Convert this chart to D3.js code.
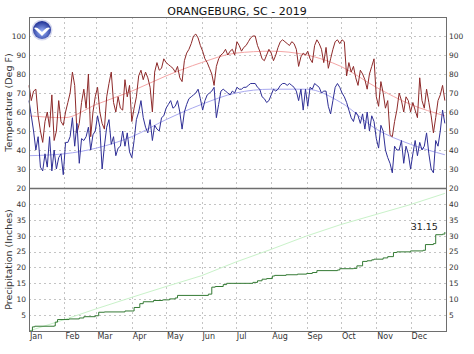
<!DOCTYPE html>
<html>
<head>
<meta charset="utf-8">
<script src="https://cdn.jsdelivr.net/npm/d3@7"></script>
<style>
  body { margin: 0; background: #fff; }
  svg { display: block; font-family: "DejaVu Sans", Verdana, sans-serif; }
</style>
</head>
<body>
<div id="chart"></div>
<script>
// ---------------- data ----------------
const year = 2019;
const stepDays = 2;   // readings taken every other day, starting Jan 1

// daily max temperature (Deg F), one value every 2 days
const tmax = [
  74, 66, 71, 72, 58, 50, 44, 55, 60, 52, 69, 45, 50, 66, 55, 53,      // Jan
  60, 65, 70, 81, 74, 49, 54, 65, 72, 62, 80, 47, 60, 68,              // Feb
  73, 60, 54, 51, 68, 75, 81, 65, 60, 68, 62, 61, 77, 68, 74,          // Mar
  55, 62, 68, 79, 82, 77, 81, 78, 73, 60, 81, 86, 82, 83, 88,          // Apr
  86, 85, 84, 83, 81, 84, 78, 76, 87, 91, 93, 96, 100, 101, 99, 95,    // May
  92, 88, 86, 83, 80, 74, 84, 88, 90, 91, 93, 90, 92, 93, 90,          // Jun
  97, 95, 92, 94, 95, 97, 99, 100, 100, 95, 92, 88, 87, 90, 93, 91,    // Jul
  87, 90, 94, 97, 98, 97, 96, 95, 97, 96, 93, 84, 89, 91, 90, 92,      // Aug
  88, 86, 95, 98, 96, 93, 86, 94, 83, 88, 93, 97, 98, 96, 98,          // Sep
  97, 79, 86, 81, 84, 78, 74, 82, 80, 77, 72, 80, 84, 88, 68,          // Oct
  63, 76, 70, 62, 66, 48, 47, 55, 61, 70, 66, 60, 68, 66, 60,          // Nov
  65, 61, 57, 78, 66, 62, 72, 65, 58, 49, 57, 66, 69, 74, 66           // Dec
];

// daily min temperature (Deg F), same days as tmax
const tmin = [
  66, 58, 50, 40, 47, 31, 29, 38, 31, 47, 29, 40, 30, 36, 38, 27,      // Jan
  44, 44, 47, 57, 42, 54, 33, 46, 45, 47, 52, 40, 48, 50,              // Feb
  58, 52, 30, 42, 52, 56, 43, 47, 37, 41, 42, 50, 42, 49, 39,          // Mar
  36, 45, 56, 60, 66, 57, 52, 49, 56, 45, 53, 51, 50, 57, 58,          // Apr
  62, 64, 66, 62, 63, 66, 60, 51, 60, 64, 67, 68, 69, 70, 72, 67,      // May
  61, 66, 69, 70, 71, 73, 57, 64, 71, 72, 71, 70, 69, 71, 70,          // Jun
  73, 72, 72, 73, 73, 74, 75, 75, 75, 73, 72, 68, 67, 65, 66, 69,      // Jul
  72, 71, 72, 74, 75, 75, 74, 75, 74, 73, 71, 66, 72, 61, 72, 63,      // Aug
  73, 72, 75, 74, 73, 70, 71, 71, 63, 59, 66, 73, 75, 73, 70,          // Sep
  68, 65, 61, 57, 55, 60, 58, 54, 59, 51, 60, 50, 58, 55, 46,          // Oct
  41, 53, 50, 40, 36, 33, 28, 42, 40, 40, 45, 33, 42, 38, 30,          // Nov
  38, 45, 37, 44, 40, 42, 49, 38, 30, 28, 45, 42, 50, 61, 54           // Dec
];

// normals at the first of each month, last value is Dec 31
const normalHigh   = [58, 57, 64, 71, 79, 86, 91, 92, 90, 84, 73, 64, 58];
const normalLow    = [37, 38, 41, 47, 56, 64, 70, 72, 72, 65, 51, 43, 37.5];
const normalPrecip = [0, 3.6, 7.0, 10.6, 14.0, 17.4, 21.7, 25.7, 29.9, 33.5, 36.7, 39.8, 43.3];

// observed cumulative precipitation: [day of year, total inches]
const precipSteps = [
  [0, 0], [3, 1.3], [5, 1.5], [22, 1.6], [23, 2.8], [25, 3.6], [35, 3.8], [44, 4.1],
  [48, 4.5], [58, 4.8], [61, 5.9], [66, 6.0], [84, 6.3], [92, 7.4], [97, 8.6], [100, 9.2],
  [109, 9.6], [117, 9.8], [123, 10.1], [128, 10.4], [130, 11.2], [157, 11.6], [160, 13.8],
  [163, 14.0], [170, 14.6], [173, 15.0], [196, 15.3], [200, 15.8], [204, 16.3], [208, 16.5],
  [213, 17.3], [215, 17.5], [225, 17.7], [235, 17.9], [243, 18.1], [248, 18.4], [252, 19.0],
  [270, 19.2], [272, 19.6], [284, 19.7], [287, 20.5], [292, 21.9], [296, 22.1], [300, 22.4],
  [302, 22.6], [310, 23.0], [314, 23.4], [319, 24.7], [322, 24.9], [334, 25.2], [345, 25.4],
  [347, 27.2], [354, 27.5], [356, 30.3], [362, 30.5], [364, 31.15]
];

const months = ['Jan', 'Feb', 'Mar', 'Apr', 'May', 'Jun', 'Jul', 'Aug', 'Sep', 'Oct', 'Nov', 'Dec'];
const tempTicks   = [20, 30, 40, 50, 60, 70, 80, 90, 100];
const tempGrid    = [30, 40, 50, 60, 70, 80, 90, 100];
const precipTicks = [5, 10, 15, 20, 25, 30, 35, 40];
const title = 'ORANGEBURG, SC - 2019';
const precipTotalLabel = '31.15';

// ---------------- layout ----------------
const svg_width = 474, svg_height = 354;
const plot_left = 29, plot_right = 446;
const temp_top = 17, divider = 188, plot_bottom = 331;

const jan1 = new Date(year, 0, 1);
const dayDate = d => d3.timeDay.offset(jan1, d);
const monthStarts = d3.timeMonths(jan1, new Date(year + 1, 0, 1));
const normalDates = monthStarts.concat([new Date(year, 11, 31)]);

const x = d3.scaleTime()
    .domain([jan1, new Date(year + 1, 0, 1)])
    .range([plot_left, plot_right]);

const yTemp = d3.scaleLinear().domain([20, 110]).range([divider, temp_top]);
const yPrecip = d3.scaleLinear().domain([0, 45]).range([plot_bottom, divider]);

const svg = d3.select('#chart')
    .append('svg')
    .attr('width', svg_width)
    .attr('height', svg_height);

// ---------------- grid ----------------
const grid = svg.append('g')
    .attr('stroke', '#c4c4c4')
    .attr('stroke-dasharray', '2,3')
    .attr('shape-rendering', 'crispEdges');

grid.selectAll('line.tgrid')
    .data(tempGrid)
    .join('line')
    .attr('x1', plot_left).attr('x2', plot_right)
    .attr('y1', d => Math.round(yTemp(d)) + 0.5)
    .attr('y2', d => Math.round(yTemp(d)) + 0.5);

grid.selectAll('line.pgrid')
    .data(precipTicks)
    .join('line')
    .attr('x1', plot_left).attr('x2', plot_right)
    .attr('y1', d => Math.round(yPrecip(d)) + 0.5)
    .attr('y2', d => Math.round(yPrecip(d)) + 0.5);

grid.selectAll('line.vgrid')
    .data(monthStarts.slice(1))
    .join('line')
    .attr('x1', d => Math.round(x(d)) + 0.5)
    .attr('x2', d => Math.round(x(d)) + 0.5)
    .attr('y1', temp_top).attr('y2', plot_bottom);

// ---------------- lines ----------------
function drawLine(values, xf, yf, color, curve = d3.curveLinear) {
    svg.append('path')
        .datum(values)
        .attr('fill', 'none')
        .attr('stroke', color)
        .attr('stroke-width', 1)
        .attr('stroke-linejoin', 'round')
        .attr('d', d3.line().x(xf).y(yf).curve(curve));
}

// normals first so the observations sit on top
drawLine(normalHigh, (d, i) => x(normalDates[i]), d => yTemp(d), '#f4a6a6', d3.curveMonotoneX);
drawLine(normalLow, (d, i) => x(normalDates[i]), d => yTemp(d), '#a9a9ef', d3.curveMonotoneX);
drawLine(normalPrecip, (d, i) => x(normalDates[i]), d => yPrecip(d), '#c9f2c9');

drawLine(tmax, (d, i) => x(dayDate(i * stepDays)), d => yTemp(d), '#8e2a2a');
drawLine(tmin, (d, i) => x(dayDate(i * stepDays)), d => yTemp(d), '#2f2f96');
drawLine(precipSteps, d => x(dayDate(d[0])), d => yPrecip(d[1]), '#347a34', d3.curveStepAfter);

// ---------------- frame ----------------
svg.append('rect')
    .attr('x', plot_left + 0.5).attr('y', temp_top + 0.5)
    .attr('width', plot_right - plot_left).attr('height', plot_bottom - temp_top)
    .attr('fill', 'none').attr('stroke', '#6e6e6e');

svg.append('line')
    .attr('x1', plot_left).attr('x2', plot_right)
    .attr('y1', divider + 0.5).attr('y2', divider + 0.5)
    .attr('stroke', '#6e6e6e').attr('stroke-width', 1.5);

// ---------------- axes (labels only) ----------------
function labelAxis(axis, tx) {
    svg.append('g')
        .attr('transform', `translate(${tx},0)`)
        .call(axis.tickSize(0).tickPadding(3))
        .call(g => g.select('.domain').remove())
        .attr('font-family', null)
        .attr('font-size', 7.5)
        .selectAll('text').attr('fill', '#333');
}
labelAxis(d3.axisLeft(yTemp).tickValues(tempTicks), plot_left);
labelAxis(d3.axisRight(yTemp).tickValues(tempTicks), plot_right);
labelAxis(d3.axisLeft(yPrecip).tickValues(precipTicks), plot_left);
labelAxis(d3.axisRight(yPrecip).tickValues(precipTicks), plot_right);

svg.selectAll('text.month')
    .data(monthStarts)
    .join('text')
    .attr('x', d => x(d) + 1)
    .attr('y', 339)
    .attr('font-size', 8)
    .attr('fill', '#333')
    .text((d, i) => months[i]);

// axis titles
svg.append('text')
    .attr('transform', `translate(12,${(temp_top + divider) / 2}) rotate(-90)`)
    .attr('text-anchor', 'middle')
    .attr('font-size', 9.5).attr('fill', '#333')
    .text('Temperature (Deg F)');

svg.append('text')
    .attr('transform', `translate(12,${(divider + plot_bottom) / 2}) rotate(-90)`)
    .attr('text-anchor', 'middle')
    .attr('font-size', 9.5).attr('fill', '#333')
    .text('Precipitation (Inches)');

svg.append('text')
    .attr('x', svg_width / 2).attr('y', 14.5)
    .attr('text-anchor', 'middle')
    .attr('font-size', 11).attr('fill', '#111')
    .text(title);

// precipitation total next to the end of the line
const last = precipSteps[precipSteps.length - 1];
svg.append('text')
    .attr('x', x(dayDate(last[0])) - 7)
    .attr('y', yPrecip(last[1]) - 2)
    .attr('text-anchor', 'end')
    .attr('font-size', 9.5).attr('fill', '#222')
    .text(precipTotalLabel);

// ---------------- NOAA logo ----------------
const defs = svg.append('defs');
const grad = defs.append('radialGradient').attr('id', 'noaaGrad').attr('cx', '50%').attr('cy', '60%').attr('r', '60%');
grad.append('stop').attr('offset', '0%').attr('stop-color', '#9fb8ff');
grad.append('stop').attr('offset', '100%').attr('stop-color', '#1c2d92');

const logo = svg.append('g').attr('transform', 'translate(42,30)');
logo.append('circle').attr('r', 10.5).attr('fill', '#d6d8ee');
logo.append('circle').attr('r', 9).attr('fill', 'url(#noaaGrad)');
logo.append('path')
    .attr('d', 'M-8,-2 C-5,-4 -2,0 0,2 C2,0 5,-4 8,-2 C6,0 3,3 0,6 C-3,3 -6,0 -8,-2 Z')
    .attr('fill', '#fff');
</script>
</body>
</html>
